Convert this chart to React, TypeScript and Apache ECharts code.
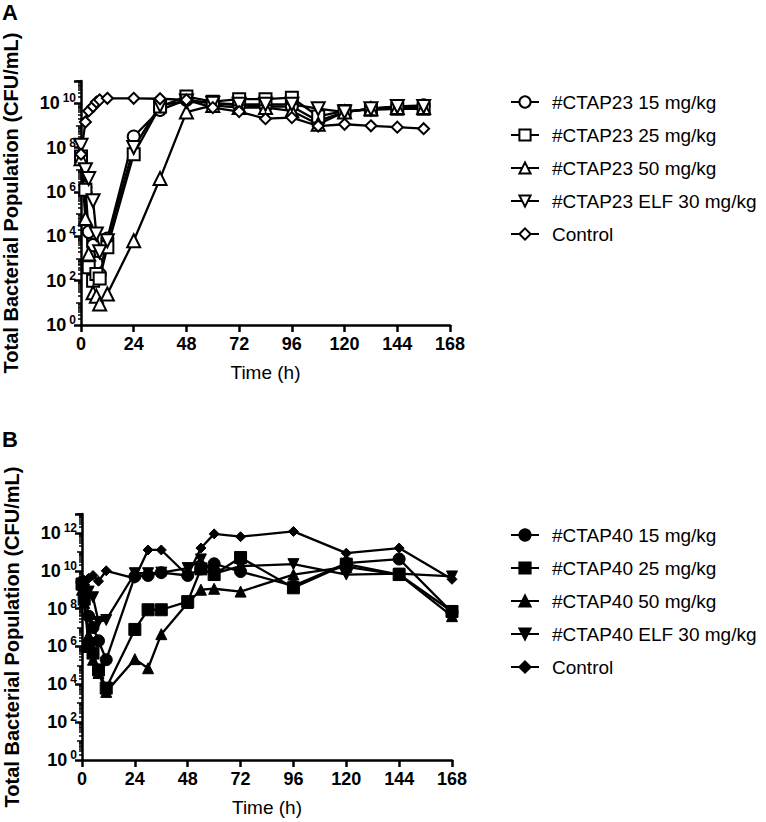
import React, { useEffect, useRef } from "react";
import * as echarts from "echarts";

const FONT = "'Liberation Sans', Arial, sans-serif";

// Panel A: sampling times (h) and log10 CFU/mL values
const timesA = [0, 2, 3.5, 5.5, 7, 8.5, 12, 24, 36, 48, 60, 72, 84, 96, 108, 120, 132, 144, 156];
const namesA = ["#CTAP23 15 mg/kg", "#CTAP23 25 mg/kg", "#CTAP23 50 mg/kg", "#CTAP23 ELF 30 mg/kg", "Control"];
const a15 = [7.6, 6.2, 4.2, 3.6, 2.8, 2.3, 3.9, 8.5, 9.7, 10.15, 10.0, 9.9, 9.85, 9.85, 9.2, 9.6, 9.75, 9.85, 9.9];
const a25 = [7.6, 6.1, 2.6, 2.0, 2.3, 2.1, 3.5, 7.7, 9.85, 10.3, 10.07, 10.18, 10.18, 10.25, 9.4, 9.65, 9.7, 9.75, 9.75];
const a50 = [7.5, 4.8, 3.2, 1.45, 1.3, 0.95, 1.4, 3.8, 6.6, 9.6, 9.9, 9.8, 9.8, 9.65, 9.05, 9.6, 9.75, 9.8, 9.8];
const aElf = [8.1, 7.0, 6.6, 5.6, 4.1, 3.3, 3.8, 8.0, 9.9, 10.1, 10.0, 9.95, 9.95, 9.95, 9.75, 9.6, 9.75, 9.85, 9.85];
const aCtl = [7.7, 9.15, 9.65, 9.85, 10.05, 10.15, 10.22, 10.22, 10.2, 10.15, 9.8, 9.62, 9.3, 9.35, 8.97, 9.05, 8.98, 8.92, 8.85];

// Panel B
const timesB = [0, 1, 3, 5, 7.5, 11, 24, 30, 36, 48, 54, 60, 72, 96, 120, 144, 168];
const namesB = ["#CTAP40 15 mg/kg", "#CTAP40 25 mg/kg", "#CTAP40 50 mg/kg", "#CTAP40 ELF 30 mg/kg", "Control B"];
const b15 = [9.4, 9.0, 7.6, 7.0, 6.3, 5.3, 9.7, 9.75, 9.9, 9.75, 10.1, 10.37, 9.96, 9.2, 10.4, 10.62, 7.8];
const b25 = [9.3, 8.5, 6.0, 5.65, 4.76, 3.8, 6.9, 7.94, 7.94, 8.37, 10.1, 9.8, 10.7, 9.1, 10.35, 9.8, 7.85];
const b50 = [9.0, 8.3, 6.6, 5.3, 4.6, 3.6, 5.33, 4.85, 6.65, 8.3, 9.0, 9.05, 8.9, 9.8, 10.2, 9.8, 7.6];
const bElf = [9.3, 9.0, 8.9, 8.6, 7.3, 7.4, 9.87, 9.87, 9.9, 10.14, 10.6, 9.85, 10.25, 10.35, 9.8, 9.85, 9.7];
const bCtl = [9.4, 9.5, 9.6, 9.75, 9.45, 10.0, 9.6, 11.1, 11.1, 9.75, 11.2, 11.95, 11.8, 12.08, 10.93, 11.2, 9.55];

const xTicks = [0, 24, 48, 72, 96, 120, 144, 168];

function minorTicks(maxExp: number) {
  const out: number[] = [];
  for (let n = 0; n < maxExp; n++) for (let k = 2; k <= 9; k++) out.push(n + Math.log10(k));
  return out;
}
function oddTicks(maxExp: number) {
  const out: number[] = [];
  for (let n = 1; n <= maxExp; n += 2) out.push(n);
  return out;
}

export default function App() {
  const ref = useRef<HTMLDivElement>(null);
  useEffect(() => {
    if (!ref.current) return;
    const chart = echarts.init(ref.current, null, { renderer: "svg" });

    const mkX = (gi: number) => ({
      type: "value",
      gridIndex: gi,
      min: 0,
      max: 168,
      interval: 24,
      name: "Time (h)",
      nameLocation: "middle",
      nameGap: 38,
      nameTextStyle: { fontFamily: FONT, fontSize: 19, color: "#000" },
      axisLine: { show: true, lineStyle: { color: "#000", width: 2.5 } },
      axisTick: { show: true, length: 7, lineStyle: { color: "#000", width: 2.5 } },
      axisLabel: { fontFamily: FONT, fontSize: 18, fontWeight: "bold", color: "#000", margin: 10, customValues: xTicks },
      splitLine: { show: false },
    });

    const mkYMain = (gi: number, maxExp: number) => ({
      type: "value",
      gridIndex: gi,
      min: 0,
      max: maxExp,
      interval: 2,
      position: "left",
      name: "Total Bacterial Population (CFU/mL)",
      nameLocation: "middle",
      nameGap: 60,
      nameTextStyle: { fontFamily: FONT, fontSize: 20, fontWeight: "bold", color: "#000" },
      axisLine: { show: true, lineStyle: { color: "#000", width: 2.5 } },
      axisTick: { show: true, length: 7, lineStyle: { color: "#000", width: 2.5 } },
      axisLabel: {
        margin: 5,
        formatter: (v: number) => (v % 2 === 0 ? `{b|10}{s|${v}}` : ""),
        rich: {
          b: { fontFamily: FONT, fontSize: 18, fontWeight: "bold", color: "#000", lineHeight: 22 },
          s: { fontFamily: FONT, fontSize: 12, fontWeight: "bold", color: "#000", verticalAlign: "top", lineHeight: 14, padding: [0, 0, 0, 3] },
        },
      },
      splitLine: { show: false },
    });

    const mkYTicks = (gi: number, maxExp: number, vals: number[], len: number) => ({
      type: "value",
      gridIndex: gi,
      min: 0,
      max: maxExp,
      position: "left",
      axisLine: { show: false },
      axisTick: { show: true, length: len, customValues: vals, lineStyle: { color: "#000", width: 1.5 } },
      axisLabel: { show: false },
      splitLine: { show: false },
    });

    const symbolsA = [
      { symbol: "circle", size: 12, rot: 0 },
      { symbol: "rect", size: 12, rot: 0 },
      { symbol: "triangle", size: 13, rot: 0 },
      { symbol: "triangle", size: 13, rot: 180 },
      { symbol: "diamond", size: 11, rot: 0 },
    ];
    const symbolsB = [
      { symbol: "circle", size: 12, rot: 0 },
      { symbol: "rect", size: 12, rot: 0 },
      { symbol: "triangle", size: 11, rot: 0 },
      { symbol: "triangle", size: 11, rot: 180 },
      { symbol: "diamond", size: 10, rot: 0 },
    ];

    const mkSeries = (name: string, times: number[], vals: number[], gi: number, yi: number, sym: any, open: boolean) => ({
      type: "line",
      name,
      xAxisIndex: gi,
      yAxisIndex: yi,
      data: times.map((t, i) => [t, vals[i]]),
      symbol: sym.symbol,
      symbolSize: sym.size,
      symbolRotate: sym.rot,
      showSymbol: true,
      lineStyle: { color: "#000", width: 2.3 },
      itemStyle: open
        ? { color: "#fff", borderColor: "#000", borderWidth: 2 }
        : { color: "#000", borderColor: "#000", borderWidth: 1 },
      emphasis: { disabled: true },
      z: 3,
    });

    const seriesA = [a15, a25, a50, aElf, aCtl].map((v, i) => mkSeries(namesA[i], timesA, v, 0, 0, symbolsA[i], true));
    const seriesB = [b15, b25, b50, bElf, bCtl].map((v, i) => mkSeries(namesB[i], timesB, v, 1, 3, symbolsB[i], false));

    const legendCommon = {
      orient: "vertical",
      left: 505,
      itemWidth: 28,
      itemHeight: 14,
      itemGap: 13,
      textStyle: { fontFamily: FONT, fontSize: 19, color: "#000", lineHeight: 20, padding: [0, 0, 0, 8] },
      selectedMode: false,
      formatter: (n: string) => (n === "Control B" ? "Control" : n),
    };

    chart.setOption({
      animation: false,
      backgroundColor: "#fff",
      grid: [
        { left: 81, top: 81, width: 369, height: 244 },
        { left: 82, top: 514, width: 370, height: 246 },
      ],
      xAxis: [mkX(0), mkX(1)],
      yAxis: [
        mkYMain(0, 11),
        mkYTicks(0, 11, oddTicks(11), 5),
        mkYTicks(0, 11, minorTicks(11), 3),
        mkYMain(1, 13),
        mkYTicks(1, 13, oddTicks(13), 5),
        mkYTicks(1, 13, minorTicks(13), 3),
      ],
      legend: [
        { ...legendCommon, top: 87, data: namesA },
        { ...legendCommon, top: 520, data: namesB },
      ],
      graphic: [
        { type: "text", left: 2, top: 1, style: { text: "A", fontFamily: FONT, fontSize: 22, fontWeight: "bold", fill: "#000" } },
        { type: "text", left: 2, top: 428, style: { text: "B", fontFamily: FONT, fontSize: 22, fontWeight: "bold", fill: "#000" } },
      ],
      series: [...seriesA, ...seriesB],
    });
    return () => chart.dispose();
  }, []);
  return <div ref={ref} style={{ position: "fixed", left: 0, top: 0, width: 766, height: 822, background: "#fff" }} />;
}
